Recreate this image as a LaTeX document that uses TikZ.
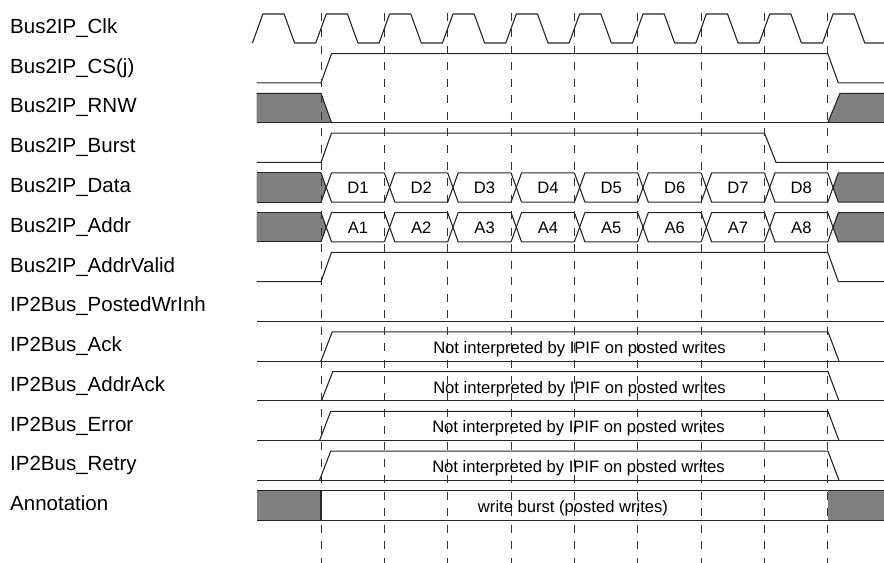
\documentclass[tikz,border=0pt]{standalone}
\usepackage{fontspec}
\setmainfont{Liberation Sans}
\begin{document}
\begin{tikzpicture}[x=1bp,y=-1bp,
  sig/.style={line width=1.1bp, black!85, line join=round},
  gridline/.style={line width=0.9bp, black!80, dash pattern=on 8bp off 8.5bp},
  busfill/.style={fill=black!50},
  lbl/.style={anchor=base west, inner sep=0pt, font=\fontsize{20.5bp}{24bp}\selectfont},
  txt/.style={anchor=base, inner sep=0pt, font=\fontsize{16.6bp}{20bp}\selectfont}]
\useasboundingbox (0,0) rectangle (884,563);

% ---------- gray fills ----------
% RNW
\fill[busfill] (256.7,93.4) -- (321,93.4) -- (331.5,122.6) -- (256.7,122.6) -- cycle;
\fill[busfill] (827.8,122.6) -- (840,93.4) -- (884,93.4) -- (884,122.6) -- cycle;
% Data / Addr
\foreach \T/\B in {172.9/202.1, 212.65/241.85}{
  \pgfmathsetmacro{\M}{(\T+\B)/2}
  \fill[busfill] (256.7,\T) -- (321,\T) -- (326.25,\M) -- (321,\B) -- (256.7,\B) -- cycle;
  \fill[busfill] (833.05,\M) -- (838.3,\T) -- (884,\T) -- (884,\B) -- (838.3,\B) -- cycle;
}
% Annotation
\fill[busfill] (256.7,490.9) rectangle (321,520.1);
\fill[busfill] (827.8,490.9) rectangle (884,520.1);

% ---------- dashed cycle markers ----------
\foreach \x in {321,384.35,447.7,511.05,574.4,637.75,701.1,764.45,827.8}
  \draw[gridline] (\x,13) -- (\x,563);

% ---------- waveforms ----------
% Clock
\draw[sig] (252.4,43)
  \foreach \i in {0,...,8}{ -- ++(10.5,-29) -- ++(21.2,0) -- ++(10.5,29) -- ++(21.15,0) }
  -- ++(10.5,-29) -- ++(21.2,0) -- ++(10.5,29) -- (884,43);
% CS(j)
\draw[sig] (256.7,82.85) -- (321,82.85) -- (331.5,53.65) -- (827.8,53.65) -- (838.3,82.85) -- (884,82.85);
% RNW
\draw[sig] (256.7,93.4) -- (321,93.4) -- (331.5,122.6);
\draw[sig] (256.7,122.6) -- (884,122.6);
\draw[sig] (827.8,122.6) -- (840,93.4) -- (884,93.4);
% Burst
\draw[sig] (256.7,162.35) -- (321,162.35) -- (331.5,133.15) -- (764.45,133.15) -- (776,162.35) -- (884,162.35);
% Data / Addr buses
\foreach \T/\B in {172.9/202.1, 212.65/241.85}{
  \draw[sig] (256.7,\T) -- (321,\T);
  \draw[sig] (256.7,\B) -- (321,\B);
  \foreach \x/\nx in {321/384.35,384.35/447.7,447.7/511.05,511.05/574.4,574.4/637.75,637.75/701.1,701.1/764.45,764.45/827.8}{
    \draw[sig] (\x,\T) -- ++(10.5,\B-\T) -- (\nx,\B);
    \draw[sig] (\x,\B) -- ++(10.5,\T-\B) -- (\nx,\T);
  }
  \draw[sig] (827.8,\T) -- (838.3,\B) -- (884,\B);
  \draw[sig] (827.8,\B) -- (838.3,\T) -- (884,\T);
}
% AddrValid
\draw[sig] (256.7,281.6) -- (321,281.6) -- (331.5,252.4) -- (827.8,252.4) -- (838.3,281.6) -- (884,281.6);
% PostedWrInh
\draw[sig] (256.7,321.35) -- (884,321.35);
% Ack / AddrAck / Error / Retry
\foreach \H/\L/\s in {331.9/361.1/321, 371.65/400.85/321.5, 411.4/440.6/319.5, 451.15/480.35/319.5}{
  \draw[sig] (256.7,\L) -- (884,\L);
  \draw[sig] (\s,\L) -- ++(11.2,\H-\L) -- (828,\H) -- (839,\L);
}
% Annotation
\draw[sig] (256.7,490.9) -- (884,490.9);
\draw[sig] (256.7,520.1) -- (884,520.1);
\draw[line width=2bp, black!85] (321,490.9) -- (321,520.1);

% ---------- labels ----------
\node[lbl] (l0)  at (10,33.5)  {Bus2IP\_Clk};
\node[lbl] (l1)  at (10,73.25) {Bus2IP\_CS(j)};
\node[lbl] (l2)  at (10,113)   {Bus2IP\_RNW};
\node[lbl] (l3)  at (10,152.75) {Bus2IP\_Burst};
\node[lbl] (l4)  at (10,192.5) {Bus2IP\_Data};
\node[lbl] (l5)  at (10,232.25) {Bus2IP\_Addr};
\node[lbl] (l6)  at (10,272)   {Bus2IP\_AddrValid};
\node[lbl] (l7)  at (10,311.75) {IP2Bus\_PostedWrInh};
\node[lbl] (l8)  at (10,351.5) {IP2Bus\_Ack};
\node[lbl] (l9)  at (10,391.25) {IP2Bus\_AddrAck};
\node[lbl] (l10) at (10,431)   {IP2Bus\_Error};
\node[lbl] (l11) at (10,470.75) {IP2Bus\_Retry};
\node[lbl] (l12) at (10,510.5) {Annotation};

% ---------- bus values ----------
\foreach \k/\x in {1/321,2/384.35,3/447.7,4/511.05,5/574.4,6/637.75,7/701.1,8/764.45}{
  \node[txt] (d\k) at (\x+36.9,193.9) {D\k};
  \node[txt] (a\k) at (\x+36.9,233.65) {A\k};
}
\node[txt] (t8)  at (579.5,353.3) {Not interpreted by IPIF on posted writes};
\node[txt] (t9)  at (579.5,393.05) {Not interpreted by IPIF on posted writes};
\node[txt] (t10) at (578.5,432.8) {Not interpreted by IPIF on posted writes};
\node[txt] (t11) at (578.5,472.55) {Not interpreted by IPIF on posted writes};
\node[txt] (t12) at (573,512.3) {write burst (posted writes)};
\end{tikzpicture}
\end{document}
